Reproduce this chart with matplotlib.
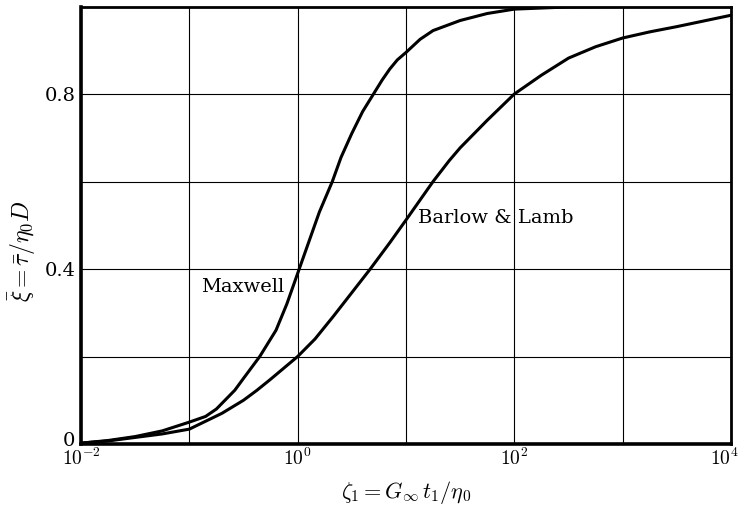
import numpy as np
from matplotlib import pyplot as plt
from matplotlib.ticker import FixedLocator, NullFormatter
from matplotlib.transforms import ScaledTranslation

plt.rcParams['mathtext.fontset'] = 'cm'
plt.rcParams['font.family'] = 'DejaVu Serif'

# curves (log10 of zeta_1, xi)
maxwell_logx = [-2, -1.75, -1.5, -1.25, -1, -0.85, -0.75, -0.58, -0.5, -0.35, -0.2,
                -0.1, 0, 0.1, 0.2, 0.32, 0.4, 0.5, 0.6, 0.7, 0.78, 0.85, 0.92, 1.0,
                1.13, 1.25, 1.5, 1.75, 2, 2.5, 3, 4]
maxwell_y = [0.002, 0.008, 0.017, 0.03, 0.05, 0.063, 0.08, 0.123, 0.15, 0.2, 0.26,
             0.32, 0.39, 0.46, 0.53, 0.6, 0.655, 0.71, 0.76, 0.8, 0.832, 0.857, 0.878,
             0.895, 0.925, 0.945, 0.968, 0.984, 0.994, 0.999, 1.0, 1.0]

barlow_logx = [-2, -1.75, -1.5, -1.25, -1, -0.7, -0.5, -0.375, -0.25, 0, 0.16, 0.33,
               0.5, 0.67, 0.85, 1.0, 1.25, 1.4, 1.5, 1.75, 2, 2.25, 2.5, 2.75, 3,
               3.25, 3.5, 3.75, 4]
barlow_y = [0.002, 0.007, 0.015, 0.023, 0.034, 0.07, 0.1, 0.123, 0.148, 0.2, 0.24, 0.292,
            0.346, 0.4, 0.46, 0.512, 0.6, 0.648, 0.677, 0.74, 0.8, 0.843, 0.882, 0.908,
            0.928, 0.942, 0.954, 0.967, 0.98]

x_labels = {1e-2: r'$10^{-2}$', 1e0: r'$10^{0}$', 1e2: r'$10^{2}$', 1e4: r'$10^{4}$'}
y_labels = {0.0: '0', 0.4: '0.4', 0.8: '0.8'}

fig = plt.figure(figsize=(7.39, 5.12), dpi=100)
ax = fig.add_axes([81 / 739, 1 - 444 / 512, 650 / 739, 437.5 / 512])

ax.plot(10 ** np.array(maxwell_logx), maxwell_y, color='black', lw=2.2,
        solid_capstyle='round', solid_joinstyle='round')
ax.plot(10 ** np.array(barlow_logx), barlow_y, color='black', lw=2.2,
        solid_capstyle='round', solid_joinstyle='round')

ax.set_xscale('log')
ax.set_xlim(1e-2, 1e4)
ax.set_ylim(0, 1.0)

# grid every decade / every 0.2, labels only on some
ax.xaxis.set_major_locator(FixedLocator(list(x_labels.keys())))
ax.set_xticklabels(list(x_labels.values()))
ax.xaxis.set_minor_locator(FixedLocator([1e-1, 1e1, 1e3]))
ax.xaxis.set_minor_formatter(NullFormatter())
ax.set_yticks(list(y_labels.keys()))
ax.set_yticklabels(list(y_labels.values()))
ax.set_yticks([0.2, 0.6], minor=True)
ax.grid(True, which='both', color='black', lw=0.8)
ax.tick_params(which='both', length=0, labelsize=14)
ax.tick_params(axis='y', pad=4)
ax.tick_params(axis='x', pad=3)

# "0" sits a bit up, last x label squeezed against the edge
zero_lab = ax.get_yticklabels()[0]
zero_lab.set_transform(zero_lab.get_transform() + ScaledTranslation(0, 0.05, fig.dpi_scale_trans))
last_lab = ax.get_xticklabels()[-1]
last_lab.set_horizontalalignment('right')
last_lab.set_transform(last_lab.get_transform() + ScaledTranslation(0.08, 0, fig.dpi_scale_trans))

for s in ax.spines.values():
    s.set_linewidth(2.0)
ax.spines['left'].set_linewidth(2.6)
ax.spines['bottom'].set_linewidth(2.6)

ax.set_xlabel(r'$\zeta_1 = G_\infty\, t_1/\eta_0$', fontsize=16, va='center')
ax.xaxis.set_label_coords(0.5, -0.11)
ax.set_ylabel(r'$\bar{\xi} = \bar{\tau}/\eta_0 D$', fontsize=17, va='center')
ax.yaxis.set_label_coords(-0.091, 0.44)

ax.text(0.31, 0.358, 'Maxwell', fontsize=14, ha='center', va='center')
ax.text(68, 0.517, 'Barlow & Lamb', fontsize=14, ha='center', va='center')

fig.savefig('out.png', dpi=100)
